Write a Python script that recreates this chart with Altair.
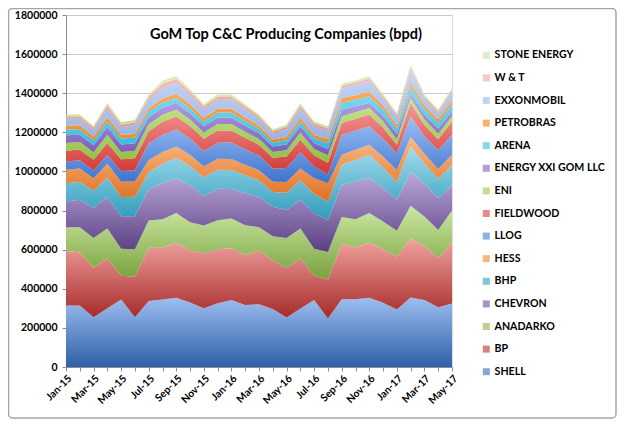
import altair as alt
import pandas as pd

months = ["Jan-15", "Feb-15", "Mar-15", "Apr-15", "May-15", "Jun-15", "Jul-15", "Aug-15",
          "Sep-15", "Oct-15", "Nov-15", "Dec-15", "Jan-16", "Feb-16", "Mar-16", "Apr-16",
          "May-16", "Jun-16", "Jul-16", "Aug-16", "Sep-16", "Oct-16", "Nov-16", "Dec-16",
          "Jan-17", "Feb-17", "Mar-17", "Apr-17", "May-17"]

# values in thousand bpd, bottom of stack first
shell = [315, 315, 254, 300, 345, 254, 338, 345, 354, 330, 300, 326, 342, 317, 321, 297, 253, 299, 342, 248, 347, 347, 354, 328, 294, 356, 342, 305, 325]
bp = [280, 270, 254, 256, 122, 208, 272, 265, 282, 267, 281, 276, 265, 256, 274, 247, 252, 257, 125, 200, 282, 265, 282, 274, 270, 303, 277, 251, 316]
anadarko = [119, 129, 152, 152, 138, 140, 139, 145, 151, 143, 142, 149, 152, 152, 120, 124, 155, 152, 138, 140, 138, 144, 151, 142, 133, 165, 151, 145, 159]
chevron = [132, 141, 153, 161, 166, 169, 160, 185, 179, 190, 152, 161, 151, 164, 154, 152, 143, 147, 180, 164, 165, 193, 179, 171, 158, 176, 170, 162, 132]
bhp = [94, 92, 90, 100, 98, 99, 85, 100, 103, 98, 95, 97, 97, 92, 85, 75, 88, 100, 100, 94, 102, 110, 120, 105, 90, 128, 100, 100, 102]
hess = [69, 68, 62, 70, 78, 78, 65, 60, 59, 58, 55, 56, 56, 53, 52, 52, 55, 60, 80, 94, 52, 52, 51, 55, 62, 50, 50, 50, 52]
llog = [42, 42, 40, 45, 55, 58, 85, 88, 86, 82, 80, 82, 85, 80, 75, 68, 72, 82, 60, 45, 102, 98, 94, 92, 85, 104, 90, 95, 102]
fieldwood = [55, 55, 55, 62, 60, 62, 62, 66, 68, 64, 62, 63, 62, 58, 55, 55, 58, 65, 58, 60, 60, 60, 60, 58, 45, 69, 57, 57, 68]
eni = [40, 38, 38, 42, 38, 38, 36, 36, 34, 33, 32, 33, 33, 31, 30, 30, 32, 36, 32, 38, 34, 34, 34, 32, 28, 25, 28, 28, 26]
energy_xxi = [39, 38, 36, 40, 38, 38, 35, 36, 35, 33, 32, 33, 33, 31, 29, 28, 30, 34, 30, 32, 34, 30, 26, 28, 28, 26, 26, 26, 26]
arena = [29, 28, 26, 30, 30, 30, 28, 27, 25, 25, 24, 25, 25, 24, 22, 20, 22, 25, 26, 30, 35, 34, 34, 32, 26, 34, 30, 30, 34]
petrobras = [20, 20, 18, 20, 18, 18, 18, 20, 21, 20, 18, 19, 19, 18, 16, 15, 16, 18, 17, 20, 25, 23, 22, 20, 17, 20, 18, 18, 20]
exxonmobil = [35, 33, 33, 45, 40, 45, 45, 55, 56, 48, 45, 46, 46, 42, 36, 30, 40, 48, 45, 43, 48, 52, 56, 36, 40, 64, 33, 28, 42]
w_and_t = [12, 12, 12, 15, 13, 14, 13, 20, 20, 16, 15, 15, 15, 14, 12, 11, 12, 13, 12, 12, 13, 13, 13, 12, 12, 15, 11, 11, 13]
stone = [10, 10, 10, 12, 12, 12, 12, 16, 15, 13, 12, 12, 12, 10, 10, 10, 11, 12, 11, 11, 11, 10, 11, 10, 11, 12, 10, 10, 11]

companies = ["SHELL", "BP", "ANADARKO", "CHEVRON", "BHP", "HESS", "LLOG", "FIELDWOOD", "ENI",
             "ENERGY XXI GOM LLC", "ARENA", "PETROBRAS", "EXXONMOBIL", "W & T", "STONE ENERGY"]
series = [shell, bp, anadarko, chevron, bhp, hess, llog, fieldwood, eni, energy_xxi, arena,
          petrobras, exxonmobil, w_and_t, stone]

# (top colour, bottom colour, legend colour)
colors = [
    ("#9DBEF0", "#2F5FA8", "#4F81BD"),
    ("#F2A3A1", "#A52A28", "#C0504D"),
    ("#CBE8A3", "#7AA13E", "#9BBB59"),
    ("#BCA9DA", "#5A3F83", "#8064A2"),
    ("#A2DCEE", "#309BBA", "#4BACC6"),
    ("#FBBA87", "#DE7122", "#F79646"),
    ("#9DC0F4", "#3E72CC", "#5B8FDD"),
    ("#F59A98", "#D13836", "#E05A58"),
    ("#C8E78F", "#90BF43", "#A9D15F"),
    ("#BEAAE5", "#7A5AB7", "#9274C9"),
    ("#83DFF4", "#38B8DC", "#4BCBEA"),
    ("#FDB066", "#F2871E", "#F8962F"),
    ("#C9D9F4", "#9AB3E3", "#A9C1EC"),
    ("#F6C4C3", "#E79492", "#EFB0AE"),
    ("#DEF1C4", "#C0E096", "#CDE8A9"),
]

title_text = "GoM Top C&C Producing Companies (bpd)"
FONT = "Lato"

rows = []
for ci, (name, vals) in enumerate(zip(companies, series)):
    for mi, m in enumerate(months):
        rows.append({"month": m, "company": name, "order": ci, "value": vals[mi] * 1000})
df = pd.DataFrame(rows)

x_enc = alt.X("month:O", sort=months, scale=alt.Scale(type="point", padding=0),
              axis=alt.Axis(title=None, labelAngle=-45, labelAlign="right", labelBaseline="top",
                            labelFont=FONT, labelFontWeight="bold", labelFontSize=10.3,
                            labelColor="#000000", labelPadding=2, tickSize=4,
                            tickColor="#8C8C8C", domainColor="#8C8C8C", grid=False,
                            labelExpr="indexof(['Jan','Mar','May','Jul','Sep','Nov'], slice(datum.label,0,3)) >= 0 ? datum.label : ''"))
y_scale = alt.Scale(domain=[0, 1800000], nice=False)
y_axis = alt.Axis(title=None, values=list(range(0, 1800001, 200000)), format="d",
                  labelFont=FONT, labelFontWeight="bold", labelFontSize=10.5, labelColor="#000000",
                  grid=True, gridColor="#C9C9C9", domainColor="#8C8C8C", tickColor="#8C8C8C",
                  tickSize=4, labelPadding=5)

layers = []
for ci, name in enumerate(companies):
    top, bottom, _ = colors[ci]
    grad = alt.LinearGradient(gradient="linear", x1=0, x2=0, y1=0, y2=1,
                              stops=[alt.GradientStop(offset=0, color=top),
                                     alt.GradientStop(offset=1, color=bottom)])
    layer = (
        alt.Chart(df)
        .transform_stack(stack="value", groupby=["month"], as_=["y0", "y1"],
                         sort=[alt.SortField("order", order="ascending")])
        .transform_filter(alt.datum.company == name)
        .mark_area(color=grad, interpolate="linear")
        .encode(x=x_enc,
                y=alt.Y("y0:Q", scale=y_scale, axis=y_axis),
                y2="y1:Q")
    )
    layers.append(layer)

legend_layer = (
    alt.Chart(df)
    .transform_filter("false")
    .mark_square()
    .encode(color=alt.Color("company:N",
                            scale=alt.Scale(domain=companies[::-1],
                                            range=[c[2] for c in colors][::-1]),
                            legend=alt.Legend(title=None, orient="none", legendX=415, legendY=35,
                                              symbolType="square", symbolSize=49,
                                              symbolStrokeWidth=0, labelFont=FONT,
                                              labelFontWeight="bold", labelFontSize=10.6,
                                              labelColor="#000000", rowPadding=11.6,
                                              labelOffset=3, padding=0)))
)

title_layer = (
    alt.Chart(pd.DataFrame({"t": [title_text]}))
    .mark_text(font=FONT, fontWeight="bold", fontSize=14.5, color="#000000",
               align="center", baseline="middle")
    .encode(text="t:N", x=alt.value(220), y=alt.value(20))
)

frame_layer = (
    alt.Chart(pd.DataFrame({"a": [0]}))
    .mark_rect(fillOpacity=0, stroke="#A6A6A6", strokeWidth=1.5, cornerRadius=4)
    .encode(x=alt.value(-57.5), x2=alt.value(550), y=alt.value(-6.5), y2=alt.value(403))
)

chart = (
    alt.layer(*layers, legend_layer, title_layer, frame_layer)
    .resolve_scale(y="shared")
    .properties(width=386, height=352,
                autosize=alt.AutoSizeParams(type="none"),
                padding={"left": 58, "top": 7, "right": 165, "bottom": 52})
    .configure_view(stroke=None)
    .configure(background="#FFFFFF")
)

chart.save("out.html", embed_options={"renderer": "svg", "actions": False})
